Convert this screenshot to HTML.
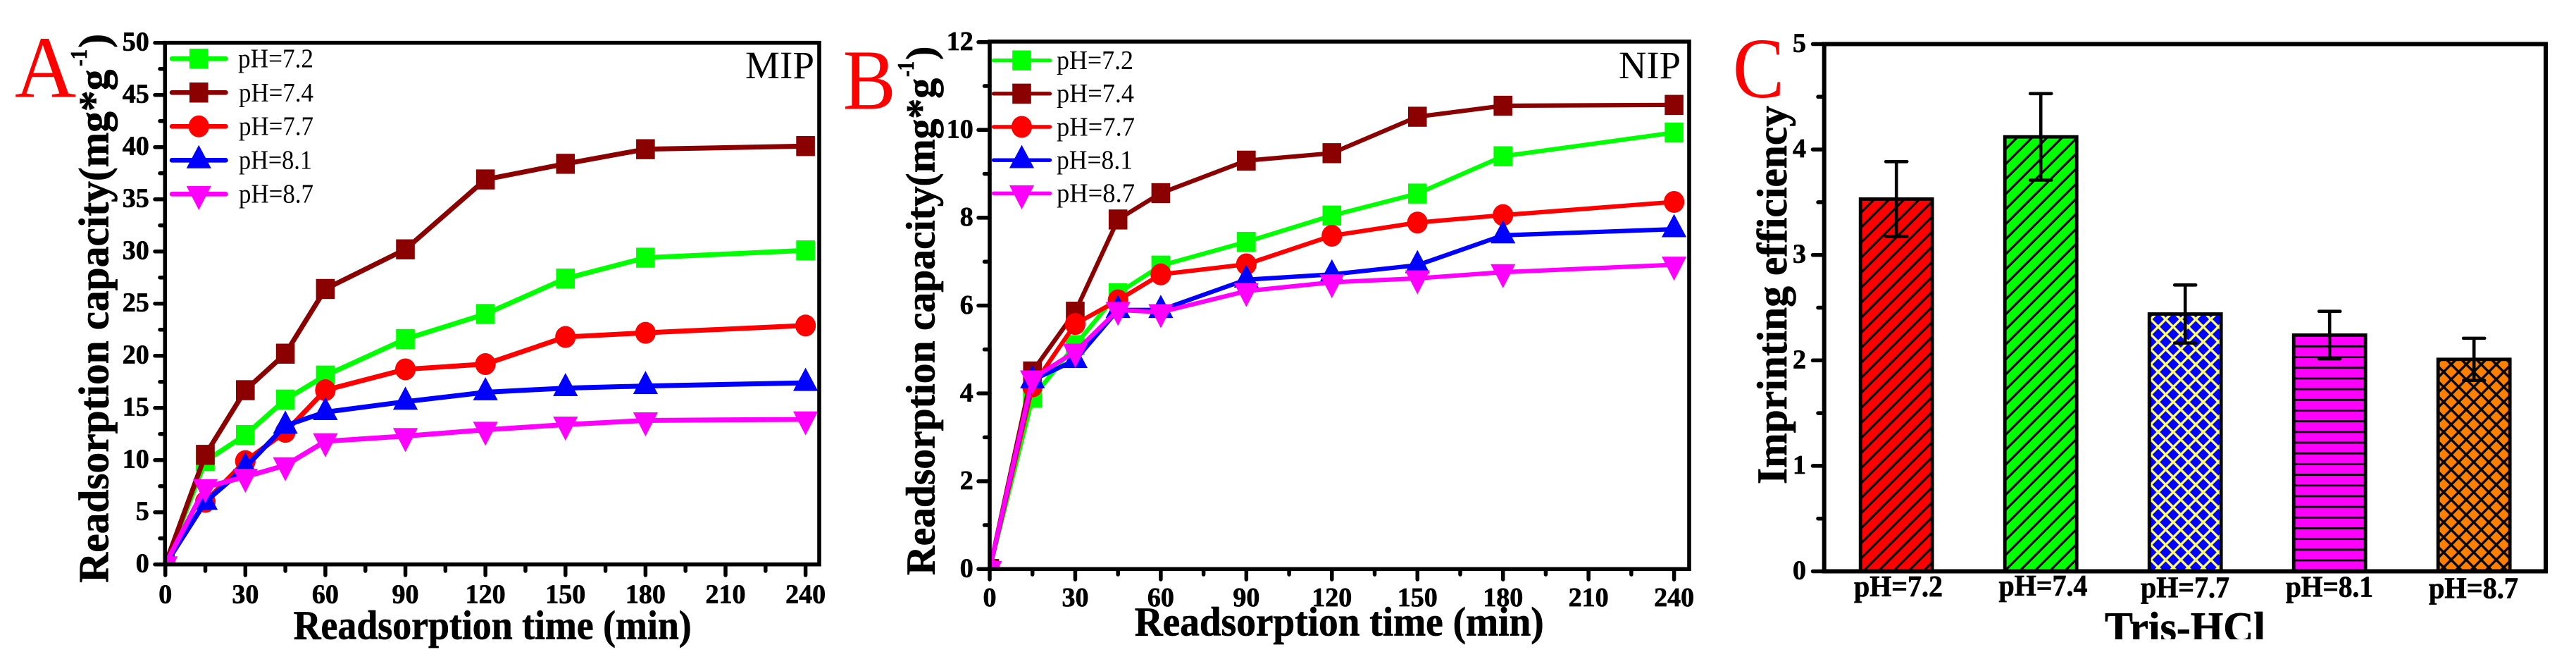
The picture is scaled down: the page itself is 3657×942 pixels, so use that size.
<!DOCTYPE html>
<html lang="en">
<head>
<meta charset="utf-8">
<title>Readsorption capacity and imprinting efficiency</title>
<style>
html,body{margin:0;padding:0;background:#fff;width:3657px;height:942px;overflow:hidden}
svg{display:block}
text{font-family:"Liberation Serif",serif}
.bold{font-weight:700;fill:#000;stroke:#000;stroke-width:.7px}
.leg{font-weight:400;font-size:38px;fill:#000}
.letter{font-weight:400;fill:#f00}
</style>
</head>
<body>
<svg id="figure" xmlns="http://www.w3.org/2000/svg" width="3657" height="942" viewBox="0 0 3657 942">
<defs>
<clipPath id="clip-a"><rect x="234" y="60" width="930" height="741"/></clipPath>
<clipPath id="clip-b"><rect x="1405" y="59" width="994" height="748"/></clipPath>
<clipPath id="clip-tris"><rect x="2900" y="850" width="400" height="57"/></clipPath>
<pattern id="hatch-red" patternUnits="userSpaceOnUse" width="21.33" height="21.33">
<path d="M-2 2 L2 -2 M0 21.33 L21.33 0 M19.33 23.33 L23.33 19.33" stroke="#000" stroke-width="3.2"/>
</pattern>
<pattern id="hatch-green" patternUnits="userSpaceOnUse" width="21.33" height="21.33" patternTransform="translate(8.5 0)">
<path d="M-2 2 L2 -2 M0 21.33 L21.33 0 M19.33 23.33 L23.33 19.33" stroke="#000" stroke-width="3.2"/>
</pattern>
<pattern id="hatch-blue" patternUnits="userSpaceOnUse" width="21.33" height="21.33" patternTransform="translate(3 5)">
<path d="M0 21.33 L21.33 0 M-2 2 L2 -2 M19.33 23.33 L23.33 19.33 M0 0 L21.33 21.33 M-2 19.33 L2 23.33 M19.33 -2 L23.33 2" stroke="#ffff66" stroke-width="3.4"/>
</pattern>
<pattern id="hatch-magenta" patternUnits="userSpaceOnUse" width="15.18" height="15.18" patternTransform="translate(0 795)">
<rect x="0" y="-1.4" width="15.18" height="2.8" fill="#000"/>
<rect x="0" y="13.78" width="15.18" height="2.8" fill="#000"/>
</pattern>
<pattern id="hatch-orange" patternUnits="userSpaceOnUse" width="21.33" height="21.33" patternTransform="translate(3 5)">
<path d="M0 21.33 L21.33 0 M-2 2 L2 -2 M19.33 23.33 L23.33 19.33 M0 0 L21.33 21.33 M-2 19.33 L2 23.33 M19.33 -2 L23.33 2" stroke="#000" stroke-width="3.4"/>
</pattern>
</defs>

<g id="panel-a">
<text class="letter" x="21" y="137.3" font-size="125" textLength="87" lengthAdjust="spacingAndGlyphs">A</text>
<text class="bold" font-size="60" transform="translate(153.3 826.7) rotate(-90)" textLength="728" lengthAdjust="spacingAndGlyphs">Readsorption capacity(mg*g</text>
<text class="bold" font-size="34" transform="translate(123 94) rotate(-90)" textLength="24" lengthAdjust="spacingAndGlyphs">-1</text>
<text class="bold" font-size="60" transform="translate(153.3 68) rotate(-90)">)</text>
<text class="bold" x="416.7" y="906.7" font-size="58" textLength="565" lengthAdjust="spacingAndGlyphs">Readsorption time (min)</text>
<text x="1058" y="111" font-size="55" textLength="98" lengthAdjust="spacingAndGlyphs" fill="#000">MIP</text>
<g>
<text class="leg" x="338" y="95.7" textLength="107" lengthAdjust="spacingAndGlyphs">pH=7.2</text>
<text class="leg" x="339" y="144" textLength="106" lengthAdjust="spacingAndGlyphs">pH=7.4</text>
<text class="leg" x="339" y="191.7" textLength="106" lengthAdjust="spacingAndGlyphs">pH=7.7</text>
<text class="leg" x="339" y="239.7" textLength="104" lengthAdjust="spacingAndGlyphs">pH=8.1</text>
<text class="leg" x="339" y="287.7" textLength="106" lengthAdjust="spacingAndGlyphs">pH=8.7</text>
</g>
</g>

<g id="panel-b">
<text class="letter" x="1196.7" y="154.3" font-size="122" textLength="75" lengthAdjust="spacingAndGlyphs">B</text>
<text class="bold" font-size="58" transform="translate(1326.7 816) rotate(-90)" textLength="705" lengthAdjust="spacingAndGlyphs">Readsorption capacity(mg*g</text>
<text class="bold" font-size="34" transform="translate(1297 109) rotate(-90)" textLength="22" lengthAdjust="spacingAndGlyphs">-1</text>
<text class="bold" font-size="58" transform="translate(1326.7 85) rotate(-90)">)</text>
<text class="bold" x="1610.7" y="901.7" font-size="58" textLength="581" lengthAdjust="spacingAndGlyphs">Readsorption time (min)</text>
<text x="2298" y="111" font-size="55" textLength="88" lengthAdjust="spacingAndGlyphs" fill="#000">NIP</text>
<g>
<text class="leg" x="1500" y="98" textLength="109" lengthAdjust="spacingAndGlyphs">pH=7.2</text>
<text class="leg" x="1500" y="145" textLength="110" lengthAdjust="spacingAndGlyphs">pH=7.4</text>
<text class="leg" x="1500" y="192.3" textLength="111" lengthAdjust="spacingAndGlyphs">pH=7.7</text>
<text class="leg" x="1500" y="239.3" textLength="108" lengthAdjust="spacingAndGlyphs">pH=8.1</text>
<text class="leg" x="1500" y="286.6" textLength="111" lengthAdjust="spacingAndGlyphs">pH=8.7</text>
</g>
</g>

<g id="panel-c">
<text class="letter" x="2460" y="138" font-size="122" textLength="73" lengthAdjust="spacingAndGlyphs">C</text>
<text class="bold" font-size="60" transform="translate(2536 687) rotate(-90)" textLength="537" lengthAdjust="spacingAndGlyphs">Imprinting efficiency</text>
<text class="bold" x="2632" y="846" font-size="42" textLength="126" lengthAdjust="spacingAndGlyphs">pH=7.2</text>
<text class="bold" x="2837.5" y="845" font-size="42" textLength="126" lengthAdjust="spacingAndGlyphs">pH=7.4</text>
<text class="bold" x="3039" y="847.7" font-size="42" textLength="126" lengthAdjust="spacingAndGlyphs">pH=7.7</text>
<text class="bold" x="3245" y="846.7" font-size="42" textLength="124" lengthAdjust="spacingAndGlyphs">pH=8.1</text>
<text class="bold" x="3448" y="848.6" font-size="42" textLength="127" lengthAdjust="spacingAndGlyphs">pH=8.7</text>
<g clip-path="url(#clip-tris)">
<text class="bold" x="2988" y="910" font-size="60" textLength="228" lengthAdjust="spacingAndGlyphs">Tris-HCl</text>
</g>
</g>
</svg>

<script>
// ---- data ----
const times = [0, 15, 30, 45, 60, 90, 120, 150, 180, 240];
const seriesNames = ['ph-7-2', 'ph-7-4', 'ph-7-7', 'ph-8-1', 'ph-8-7'];

const mipPh72 = [0, 9.9, 12.4, 15.8, 18.1, 21.6, 24.0, 27.4, 29.4, 30.1];
const mipPh74 = [0, 10.5, 16.7, 20.2, 26.4, 30.2, 36.9, 38.4, 39.8, 40.1];
const mipPh77 = [0, 6.0, 9.9, 12.7, 16.7, 18.7, 19.2, 21.8, 22.2, 22.9];
const mipPh81 = [0, 6.0, 9.3, 13.3, 14.6, 15.6, 16.5, 16.9, 17.1, 17.4];
const mipPh87 = [0, 7.4, 8.4, 9.5, 11.8, 12.3, 12.9, 13.4, 13.8, 13.9];

const nipPh72 = [0, 3.9, 5.1, 6.28, 6.91, 7.45, 8.05, 8.55, 9.4, 9.94];
const nipPh74 = [0, 4.5, 5.86, 7.96, 8.56, 9.3, 9.47, 10.3, 10.55, 10.57];
const nipPh77 = [0, 4.16, 5.58, 6.12, 6.71, 6.94, 7.59, 7.89, 8.06, 8.36];
const nipPh81 = [0, 4.3, 4.76, 5.9, 5.9, 6.59, 6.71, 6.92, 7.6, 7.74];
const nipPh87 = [0, 4.34, 4.95, 5.9, 5.85, 6.33, 6.53, 6.62, 6.76, 6.93];

const barCategories = ['ph-7-2', 'ph-7-4', 'ph-7-7', 'ph-8-1', 'ph-8-7'];
const efficiencyValues = [3.53, 4.12, 2.44, 2.24, 2.01];
const efficiencyErrors = [0.355, 0.41, 0.275, 0.225, 0.2];

const xTickLabels = ['0', '30', '60', '90', '120', '150', '180', '210', '240'];
const yTickLabelsA = ['0', '5', '10', '15', '20', '25', '30', '35', '40', '45', '50'];
const yTickLabelsB = ['0', '2', '4', '6', '8', '10', '12'];
const yTickLabelsC = ['0', '1', '2', '3', '4', '5'];

// ---- styles (not data) ----
const seriesColors = ['#00ff00', '#8b0000', '#ff0000', '#0000ff', '#ff00ff'];
const seriesShapes = ['square', 'square', 'circle', 'up', 'down'];
const barFills = ['#ff0000', '#00ff00', '#0000ff', '#ff00ff', '#ff8000'];
const barHatches = ['hatch-red', 'hatch-green', 'hatch-blue', 'hatch-magenta', 'hatch-orange'];

const NS = 'http://www.w3.org/2000/svg';
function make(parent, tag, attrs) {
  const el = document.createElementNS(NS, tag);
  for (const k in attrs) el.setAttribute(k, attrs[k]);
  parent.appendChild(el);
  return el;
}

// axis functions
const xA = v => 234.7 + v * (908.9 / 240);
const yA = v => 800.7 - v * 14.8;
const xB = v => 1405 + v * (971.6 / 240);
const yB = v => 807.3 - v * 62.3;
const yC = v => 810.5 - v * 149.6;
const xC = i => 2692.2 + i * 205;

function drawMarker(parent, shape, cx, cy, color, name) {
  let el;
  if (shape === 'square') {
    el = make(parent, 'rect', {x: cx - 13.3, y: cy - 14.2, width: 26.6, height: 28.4, fill: color});
  } else if (shape === 'circle') {
    el = make(parent, 'ellipse', {cx: cx, cy: cy, rx: 14.6, ry: 15.5, fill: color});
  } else if (shape === 'up') {
    el = make(parent, 'polygon', {points: [cx, cy - 21.5, cx + 17.6, cy + 11.4, cx - 17.6, cy + 11.4].join(' '), fill: color});
  } else {
    el = make(parent, 'polygon', {points: [cx, cy + 22.7, cx + 17.6, cy - 11.4, cx - 17.6, cy - 11.4].join(' '), fill: color});
  }
  
  
}

function drawSeries(panel, clipId, name, xs, ys, color, shape, sx, sy, lw) {
  const g = make(panel, 'g', {'clip-path': 'url(#' + clipId + ')'});
  
  
  const pts = xs.map((x, i) => sx(x).toFixed(2) + ',' + sy(ys[i]).toFixed(2)).join(' ');
  const line = make(g, 'polyline', {points: pts, fill: 'none', stroke: color, 'stroke-width': lw, 'stroke-linejoin': 'miter'});
  
  
  xs.forEach((x, i) => {
    drawMarker(g, shape, sx(x), sy(ys[i]), color, 'point-' + name + '-' + x);
  });
}

function drawLegendHandles(panel, x1, x2, y0, dy, lw) {
  seriesNames.forEach((n, i) => {
    const y = y0 + i * dy;
    const g = make(panel, 'g', {});
    
    
    const ln = make(g, 'line', {x1: x1, x2: x2, y1: y, y2: y, stroke: seriesColors[i], 'stroke-width': lw, 'stroke-linecap': 'round'});
    
    
    drawMarker(g, seriesShapes[i], (x1 + x2) / 2, y, seriesColors[i], 'legend-marker-' + n);
  });
}

function tickLine(parent, x1, y1, x2, y2, w, name) {
  const t = make(parent, 'line', {x1: x1, y1: y1, x2: x2, y2: y2, stroke: '#000', 'stroke-width': w, 'stroke-linecap': 'round'});
  
  
}

function tickText(parent, x, y, anchor, str, name) {
  const t = make(parent, 'text', {x: x, y: y, 'text-anchor': anchor, class: 'bold', 'font-size': 38});
  t.textContent = str;
  
  
}

function drawYAxis(panel, labels, sy, axisX, majorEnd, minorEnd, labelX, dy) {
  const g = make(panel, 'g', {});
  
  
  labels.forEach((lab, i) => {
    const v = Number(lab);
    tickLine(g, axisX, sy(v), majorEnd, sy(v), 5.5, 'y-tick-' + lab);
    tickText(g, labelX, sy(v) + dy, 'end', lab, 'y-tick-label-' + lab);
    if (i < labels.length - 1) {
      const m = (v + Number(labels[i + 1])) / 2;
      tickLine(g, axisX, sy(m), minorEnd, sy(m), 5.5, 'y-minor-tick-' + m);
    }
  });
}

function drawXAxis(panel, labels, sx, axisY, majorEnd, minorEnd, labelY) {
  const g = make(panel, 'g', {});
  
  
  labels.forEach((lab, i) => {
    const v = Number(lab);
    tickLine(g, sx(v), axisY, sx(v), majorEnd, 5.5, 'x-tick-' + lab);
    tickText(g, sx(v), labelY, 'middle', lab, 'x-tick-label-' + lab);
    if (i < labels.length - 1) {
      const m = (v + Number(labels[i + 1])) / 2;
      tickLine(g, sx(m), axisY, sx(m), minorEnd, 5.5, 'x-minor-tick-' + m);
    }
  });
}

function drawFrame(panel, x, y, w, h, sw) {
  const f = make(panel, 'rect', {x: x, y: y, width: w, height: h, fill: 'none', stroke: '#000', 'stroke-width': sw});
  
  
}

// Panel A
const panelA = document.getElementById('panel-a');
[mipPh72, mipPh74, mipPh77, mipPh81, mipPh87].forEach((vals, i) => {
  drawSeries(panelA, 'clip-a', seriesNames[i], times, vals, seriesColors[i], seriesShapes[i], xA, yA, 7);
});
drawLegendHandles(panelA, 244, 320.5, 83.3, 48, 6.6);
drawYAxis(panelA, yTickLabelsA, yA, 234.3, 220, 227, 211.7, 10.7);
drawXAxis(panelA, xTickLabels, xA, 800.7, 816, 810, 855.7);
drawFrame(panelA, 234.3, 60.7, 928.7, 740, 5.6);

// Panel B
const panelB = document.getElementById('panel-b');
[nipPh72, nipPh74, nipPh77, nipPh81, nipPh87].forEach((vals, i) => {
  drawSeries(panelB, 'clip-b', seriesNames[i], times, vals, seriesColors[i], seriesShapes[i], xB, yB, 6.2);
});
drawLegendHandles(panelB, 1410.5, 1490.5, 85.7, 47.15, 5.4);
drawYAxis(panelB, yTickLabelsB, yB, 1405, 1389, 1397.5, 1381.7, 11.3);
drawXAxis(panelB, xTickLabels, xB, 807.3, 822, 815, 860);
drawFrame(panelB, 1405, 59, 993, 748.3, 5.6);

// Panel C
const panelC = document.getElementById('panel-c');
barCategories.forEach((cat, i) => {
  const g = make(panelC, 'g', {});
  
  
  const top = yC(efficiencyValues[i]);
  const left = xC(i) - 51;
  const h = yC(0) - top;
  const fill = make(g, 'rect', {x: left, y: top, width: 102, height: h, fill: barFills[i]});
  
  
  const hatch = make(g, 'rect', {x: left, y: top, width: 102, height: h, fill: 'url(#' + barHatches[i] + ')', stroke: '#000', 'stroke-width': 4.8});
  
  
  const hi = yC(efficiencyValues[i] + efficiencyErrors[i]);
  const lo = yC(efficiencyValues[i] - efficiencyErrors[i]);
  const e = make(g, 'line', {x1: xC(i), x2: xC(i), y1: hi, y2: lo, stroke: '#000', 'stroke-width': 4.6});
  
  
  const c1 = make(g, 'line', {x1: xC(i) - 15, x2: xC(i) + 15, y1: hi, y2: hi, stroke: '#000', 'stroke-width': 4.6, 'stroke-linecap': 'round'});
  
  
  const c2 = make(g, 'line', {x1: xC(i) - 15, x2: xC(i) + 15, y1: lo, y2: lo, stroke: '#000', 'stroke-width': 4.6, 'stroke-linecap': 'round'});
  
  
});
drawYAxis(panelC, yTickLabelsC, yC, 2589.7, 2573.5, 2581, 2564, 11);
drawFrame(panelC, 2589.7, 62.5, 1024.3, 748, 6);
</script>
</body>
</html>
